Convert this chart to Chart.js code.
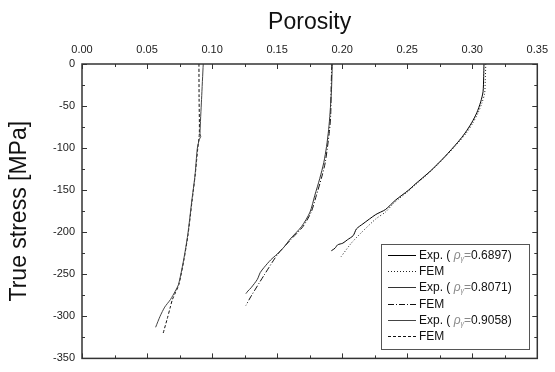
<!DOCTYPE html>
<html>
<head>
<meta charset="utf-8">
<script src="https://cdn.jsdelivr.net/npm/chart.js@4"></script>
<style>
  html, body { margin: 0; padding: 0; background: #fff; }
  #wrap { width: 555px; height: 372px; }
</style>
</head>
<body>
<div id="wrap"><canvas id="c" width="555" height="372"></canvas></div>
<script>
// relative densities shown in legend
const rhoValues = ['0.6897', '0.8071', '0.9058']

// rho = 0.6897 (right curve)
const exp1Por    = [0.3090, 0.3088, 0.3083, 0.3065, 0.3035, 0.2995, 0.2945, 0.2889, 0.2790, 0.2680, 0.2560, 0.2510, 0.2409, 0.2333, 0.2258, 0.2160, 0.2110, 0.2085, 0.2040, 0.2005, 0.1965, 0.1945, 0.1917]
const exp1Stress = [0, -15, -33, -45, -58, -70, -82, -93, -110, -127, -143, -150, -162, -173, -179, -190, -196, -204, -209, -213, -215, -219, -222]
const fem1Por    = [0.3104, 0.3100, 0.3095, 0.3075, 0.3045, 0.3005, 0.2955, 0.2895, 0.2795, 0.2685, 0.2560, 0.2510, 0.2400, 0.2333, 0.2260, 0.2157, 0.2070, 0.1992]
const fem1Stress = [0, -20, -35, -46, -58, -70, -82, -93, -110, -127, -144, -151, -165, -176, -184, -199, -213, -229]

// rho = 0.8071 (middle curve)
const exp2Por    = [0.1924, 0.1918, 0.1907, 0.1896, 0.1880, 0.1859, 0.1828, 0.1790, 0.1753, 0.1689, 0.1601, 0.1551, 0.1500, 0.1450, 0.1399, 0.1370, 0.1348, 0.1300, 0.1275, 0.1260]
const exp2Stress = [0, -30, -58, -78, -98, -117, -136, -156, -176, -193, -208, -218, -226, -233, -242, -248, -256, -266, -270, -273]
const fem2Por    = [0.1920, 0.1915, 0.1912, 0.1902, 0.1870, 0.1840, 0.1802, 0.1762, 0.1700, 0.1610, 0.1550, 0.1500, 0.1400, 0.1300, 0.1260]
const fem2Stress = [0, -30, -60, -80, -117, -136, -156, -176, -193, -208, -218, -227, -251, -276, -287]

// rho = 0.9058 (left curve)
const exp3Por    = [0.0932, 0.0919, 0.0907, 0.0913, 0.0901, 0.0886, 0.0869, 0.0843, 0.0813, 0.0780, 0.0742, 0.0717, 0.0680, 0.0636, 0.0600, 0.0566]
const exp3Stress = [0, -42, -83, -86, -90, -101, -132, -164, -203, -234, -262, -270, -280, -289, -300, -313]
const fem3Por    = [0.0899, 0.0900, 0.0902, 0.0890, 0.0870, 0.0845, 0.0815, 0.0782, 0.0745, 0.0718, 0.0695, 0.0679, 0.0655, 0.0624]
const fem3Stress = [0, -40, -83, -100, -132, -164, -203, -234, -262, -272, -280, -289, -303, -320]

const xTicks = [0, 0.05, 0.10, 0.15, 0.20, 0.25, 0.30, 0.35]
const yTicks = [0, -50, -100, -150, -200, -250, -300, -350]

const pts = (xs, ys) => xs.map((x, i) => ({ x, y: ys[i] }))
const FONT = '"Liberation Sans", Arial, sans-serif'

const datasets = [
  { label: 'Exp.', rho: rhoValues[0], data: pts(exp1Por, exp1Stress), borderColor: '#000', borderDash: [] },
  { label: 'FEM',  data: pts(fem1Por, fem1Stress), borderColor: '#222', borderDash: [1, 2] },
  { label: 'Exp.', rho: rhoValues[1], data: pts(exp2Por, exp2Stress), borderColor: '#333', borderDash: [] },
  { label: 'FEM',  data: pts(fem2Por, fem2Stress), borderColor: '#111', borderDash: [6, 2, 1, 2] },
  { label: 'Exp.', rho: rhoValues[2], data: pts(exp3Por, exp3Stress), borderColor: '#444', borderDash: [] },
  { label: 'FEM',  data: pts(fem3Por, fem3Stress), borderColor: '#111', borderDash: [3, 2] },
].map(d => ({ ...d, showLine: true, pointRadius: 0, borderWidth: 1, tension: 0.25, fill: false }))

// frame + inward ticks on all four sides, legend box on top
const framePlugin = {
  id: 'frame',
  afterDatasetsDraw(chart) {
    const { ctx, chartArea: a, scales: { x, y } } = chart
    ctx.save()
    ctx.strokeStyle = '#333'
    ctx.lineWidth = 1.5
    ctx.strokeRect(a.left, a.top, a.right - a.left, a.bottom - a.top)
    ctx.lineWidth = 1
    ctx.beginPath()
    for (let i = 0; i <= 14; i++) {
      const px = Math.round(x.getPixelForValue(i * 0.025)) + 0.5
      const len = i % 2 === 0 ? 5 : 3
      ctx.moveTo(px, a.top); ctx.lineTo(px, a.top + len)
      ctx.moveTo(px, a.bottom); ctx.lineTo(px, a.bottom - len)
    }
    for (let i = 0; i <= 14; i++) {
      const py = Math.round(y.getPixelForValue(-i * 25)) + 0.5
      const len = i % 2 === 0 ? 5 : 3
      ctx.moveTo(a.left, py); ctx.lineTo(a.left + len, py)
      ctx.moveTo(a.right, py); ctx.lineTo(a.right - len, py)
    }
    ctx.stroke()
    ctx.restore()
  },
  afterDraw(chart) {
    const { ctx } = chart
    const box = { left: 381, top: 244, right: 529, bottom: 349 }
    ctx.save()
    ctx.fillStyle = '#fff'
    ctx.fillRect(box.left, box.top, box.right - box.left, box.bottom - box.top)
    ctx.strokeStyle = '#555'
    ctx.lineWidth = 1
    ctx.strokeRect(box.left + 0.5, box.top + 0.5, box.right - box.left, box.bottom - box.top)
    ctx.textBaseline = 'middle'
    chart.data.datasets.forEach((d, i) => {
      const ry = Math.round(255 + i * 16.2) + 0.5
      ctx.strokeStyle = d.borderColor
      ctx.setLineDash(d.borderDash)
      ctx.beginPath(); ctx.moveTo(388, ry); ctx.lineTo(416, ry); ctx.stroke()
      ctx.setLineDash([])
      let tx = 419
      ctx.fillStyle = '#111'
      ctx.font = '12px ' + FONT
      if (d.rho) {
        const s1 = d.label + ' ( '
        ctx.fillText(s1, tx, ry); tx += ctx.measureText(s1).width
        ctx.fillStyle = '#888'
        ctx.font = 'italic 12px ' + FONT
        ctx.fillText('ρ', tx, ry); tx += ctx.measureText('ρ').width
        ctx.font = 'italic 7px ' + FONT
        ctx.fillText('γ', tx, ry + 4); tx += ctx.measureText('γ').width
        ctx.font = '12px ' + FONT
        ctx.fillText('=', tx, ry); tx += ctx.measureText('=').width
        ctx.fillStyle = '#111'
        ctx.fillText(d.rho + ')', tx, ry)
      } else {
        ctx.fillText(d.label, tx, ry)
      }
    })
    ctx.restore()
  }
}

new Chart(document.getElementById('c'), {
  type: 'scatter',
  data: { datasets },
  options: {
    responsive: false,
    animation: false,
    layout: { padding: { left: 0, top: 0, right: 12, bottom: 10 } },
    plugins: { legend: { display: false }, tooltip: { enabled: false } },
    scales: {
      x: {
        type: 'linear', position: 'top', min: 0, max: 0.35,
        afterBuildTicks: s => { s.ticks = xTicks.map(v => ({ value: v })) },
        afterFit: s => { s.height = 64 },
        ticks: { padding: 7, color: '#222', font: { family: FONT, size: 11 }, callback: v => v.toFixed(2) },
        grid: { display: false, drawTicks: false },
        border: { display: false },
        title: { display: true, text: 'Porosity', color: '#111', font: { family: FONT, size: 23 }, padding: { top: 9 } }
      },
      y: {
        type: 'linear', position: 'left', min: -350, max: 0,
        afterBuildTicks: s => { s.ticks = yTicks.map(v => ({ value: v })) },
        afterFit: s => { s.width = 82 },
        ticks: { padding: 7, color: '#222', font: { family: FONT, size: 11 } },
        grid: { display: false, drawTicks: false },
        border: { display: false },
        title: { display: true, text: 'True stress [MPa]', color: '#111', font: { family: FONT, size: 23 }, padding: { top: 6 } }
      }
    }
  },
  plugins: [framePlugin]
})
</script>
</body>
</html>
